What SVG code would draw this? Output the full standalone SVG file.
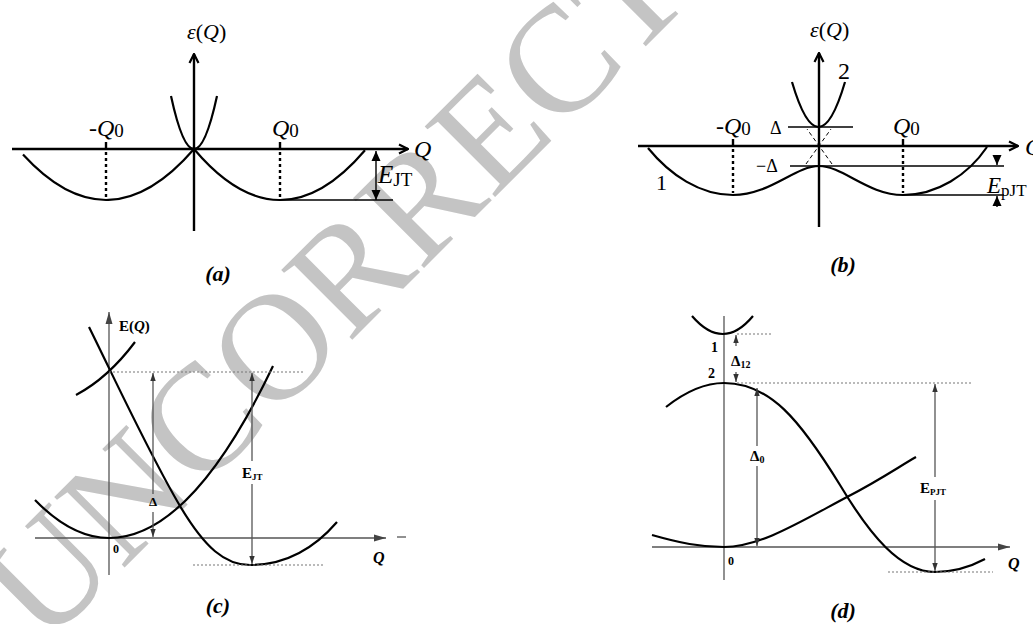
<svg xmlns="http://www.w3.org/2000/svg" width="1033" height="624" viewBox="0 0 1033 624">
<style>
.ser{font-family:"Liberation Serif","Times New Roman",serif;fill:#000}
.it{font-style:italic}
.bd{font-weight:bold}
.ax{stroke:#000;stroke-width:2.4;fill:none}
.cv{stroke:#000;stroke-width:2.2;fill:none}
.thin{stroke:#000;stroke-width:1.4;fill:none}
.dotk{stroke:#000;stroke-width:2.4;stroke-dasharray:3 3;fill:none}
.dash{stroke:#000;stroke-width:1;stroke-dasharray:4 3;fill:none}
.gax{stroke:#555;stroke-width:1.3;fill:none}
.gdot{stroke:#777;stroke-width:1.2;stroke-dasharray:2 2;fill:none}
.cap{font-family:"Liberation Serif","Times New Roman",serif;font-size:22px;font-weight:bold;font-style:italic;fill:#000}
</style>
<defs>
<marker id="chev" markerUnits="userSpaceOnUse" viewBox="0 0 12 12" refX="11" refY="6" markerWidth="12" markerHeight="12" orient="auto">
<path d="M2,1.5 L11,6 L2,10.5" fill="none" stroke="#000" stroke-width="2.2"/>
</marker>
<marker id="tri" markerUnits="userSpaceOnUse" viewBox="0 0 10 10" refX="10" refY="5" markerWidth="10" markerHeight="10" orient="auto-start-reverse">
<path d="M0,0.5 L10,5 L0,9.5 z" fill="#000"/>
</marker>
<marker id="gtri" markerUnits="userSpaceOnUse" viewBox="0 0 12 8" refX="12" refY="4" markerWidth="12" markerHeight="8" orient="auto-start-reverse">
<path d="M0,0.5 L12,4 L0,7.5 z" fill="#444"/>
</marker>
<marker id="stri" markerUnits="userSpaceOnUse" viewBox="0 0 8 6" refX="8" refY="3" markerWidth="8" markerHeight="6" orient="auto-start-reverse">
<path d="M0,0.3 L8,3 L0,5.7 z" fill="#333"/>
</marker>
</defs>
<rect width="1033" height="624" fill="#fff"/>

<g id="watermark">
<text transform="translate(44,648) rotate(-45)" font-family="Liberation Serif, serif" font-size="152" fill="#c4c4c4">UNCORRECTED</text>
</g>

<!-- Panel (a) -->
<g id="panel-a">
<g id="a-axes">
<line x1="12" y1="149" x2="408" y2="149" class="ax" marker-end="url(#chev)"/>
<line x1="194" y1="231" x2="194" y2="54" class="ax" marker-end="url(#chev)"/>
</g>
<g id="a-curves">
<path d="M171,96 Q194,202 217,96" class="cv"/>
<path d="M23,154.6 Q108.5,248.1 194,149" class="cv"/>
<path d="M194,149 Q279.5,250.4 365,150.2" class="cv"/>
<line x1="106" y1="142" x2="106" y2="149" class="ax"/>
<line x1="280" y1="142" x2="280" y2="149" class="ax"/>
<line x1="106" y1="152" x2="106" y2="199" class="dotk"/>
<line x1="280" y1="152" x2="280" y2="199" class="dotk"/>
<line x1="280" y1="200" x2="393" y2="200" class="thin"/>
<line x1="376" y1="151" x2="376" y2="200" class="thin" marker-start="url(#tri)" marker-end="url(#tri)"/>
</g>
<g id="a-labels">
<text class="ser" x="187" y="39" font-size="22"><tspan class="it">ε</tspan>(<tspan class="it">Q</tspan>)</text>
<text class="ser" x="89" y="136" font-size="24">-<tspan class="it">Q</tspan><tspan font-size="19" dy="1">0</tspan></text>
<text class="ser" x="272" y="136" font-size="24"><tspan class="it">Q</tspan><tspan font-size="19" dy="1">0</tspan></text>
<text class="ser it" x="414" y="157" font-size="24">Q</text>
<text class="ser" x="378" y="183" font-size="25"><tspan class="it">E</tspan><tspan font-size="19" dy="3">JT</tspan></text>
<text class="cap" x="218" y="281" text-anchor="middle">(a)</text>
</g>
</g>

<!-- Panel (b) -->
<g id="panel-b">
<g id="b-axes">
<line x1="638" y1="146" x2="1018" y2="146" class="ax" marker-end="url(#chev)"/>
<line x1="819" y1="227" x2="819" y2="53" class="ax" marker-end="url(#chev)"/>
</g>
<g id="b-curves">
<path d="M792,82 Q818.5,172 845,82" class="cv"/>
<path d="M648,148 C670,175 700,195 733,195 C770,195 795,166 819,166 C843,166 868,195 903,195 C937,195 968,175 987,147" class="cv"/>
<line x1="806" y1="164" x2="831" y2="129" class="dash"/>
<line x1="832" y1="164" x2="807" y2="129" class="dash"/>
<line x1="788" y1="127" x2="853" y2="127" class="thin"/>
<line x1="790" y1="166" x2="1004" y2="166" class="thin"/>
<line x1="903" y1="195" x2="1004" y2="195" class="thin"/>
<line x1="733" y1="139" x2="733" y2="146" class="ax"/>
<line x1="903" y1="139" x2="903" y2="146" class="ax"/>
<line x1="733" y1="149" x2="733" y2="193" class="dotk"/>
<line x1="903" y1="149" x2="903" y2="193" class="dotk"/>
<line x1="997" y1="155" x2="997" y2="165" class="thin" marker-end="url(#tri)"/>
<line x1="997" y1="207" x2="997" y2="196" class="thin" marker-end="url(#tri)"/>
</g>
<g id="b-labels">
<text class="ser" x="810" y="37" font-size="22"><tspan class="it">ε</tspan>(<tspan class="it">Q</tspan>)</text>
<text class="ser" x="838" y="79" font-size="24">2</text>
<text class="ser" x="716" y="134" font-size="24">-<tspan class="it">Q</tspan><tspan font-size="19" dy="1">0</tspan></text>
<text class="ser" x="893" y="134" font-size="24"><tspan class="it">Q</tspan><tspan font-size="19" dy="1">0</tspan></text>
<text class="ser" x="770" y="134" font-size="18">Δ</text>
<text class="ser" x="756" y="172" font-size="18">−Δ</text>
<text class="ser" x="656" y="190" font-size="22">1</text>
<text class="ser it" x="1025" y="155" font-size="24">Q</text>
<text class="ser" x="987" y="193" font-size="23"><tspan class="it">E</tspan><tspan font-size="17" dy="3">pJT</tspan></text>
<text class="cap" x="843" y="272" text-anchor="middle">(b)</text>
</g>
</g>

<!-- Panel (c) -->
<g id="panel-c">
<g id="c-axes">
<line x1="35" y1="538" x2="386" y2="538" class="gax" marker-end="url(#gtri)"/>
<line x1="397" y1="537" x2="406" y2="537" class="gax"/>
<line x1="109" y1="575" x2="109" y2="312" class="gax" marker-end="url(#gtri)"/>
</g>
<g id="c-curves">
<path d="M76,395 Q108,378 135,342" class="cv"/>
<path d="M89,327 C120,390 150,455 180,506 C205,548 225,565 250,565 Q300,565 337,522" class="cv"/>
<path d="M35,500 Q72,538 109,538 Q191,538 273,366" class="cv"/>
<line x1="109" y1="372" x2="303" y2="372" class="gdot"/>
<line x1="193" y1="565" x2="323" y2="565" class="gdot"/>
<line x1="153" y1="373" x2="153" y2="494" class="gax" marker-start="url(#stri)"/>
<line x1="153" y1="512" x2="153" y2="537" class="gax" marker-end="url(#stri)"/>
<line x1="252" y1="373" x2="252" y2="461" class="gax" marker-start="url(#stri)"/>
<line x1="252" y1="484" x2="252" y2="564" class="gax" marker-end="url(#stri)"/>
</g>
<g id="c-labels">
<text class="ser bd" x="119" y="331" font-size="15">E(<tspan class="it">Q</tspan>)</text>
<text class="ser bd" x="153" y="506" font-size="13" text-anchor="middle">Δ</text>
<text class="ser bd" x="242" y="478" font-size="15">E<tspan font-size="9" dy="2">JT</tspan></text>
<text class="ser bd" x="113" y="553" font-size="12">0</text>
<text class="ser bd it" x="373" y="563" font-size="16">Q</text>
<text class="cap" x="218" y="613" text-anchor="middle">(c)</text>
</g>
</g>

<!-- Panel (d) -->
<g id="panel-d">
<g id="d-axes">
<line x1="652" y1="547" x2="1010" y2="547" class="gax" marker-end="url(#gtri)"/>
<line x1="724" y1="580" x2="724" y2="316" class="gax"/>
</g>
<g id="d-curves">
<path d="M692,316 Q723,352 753,316" class="cv"/>
<path d="M666,407 C685,392 705,383 724,383 C770,383 800,420 840,485 C870,535 900,572 935,572 C955,572 970,567 985,559" class="cv"/>
<path d="M652,535 C680,543 700,547 724,547 C760,547 800,522 847,497 C880,480 900,466 916,457" class="cv"/>
<line x1="737" y1="334" x2="773" y2="334" class="gdot"/>
<line x1="737" y1="383" x2="972" y2="383" class="gdot"/>
<line x1="888" y1="572" x2="993" y2="572" class="gdot"/>
<line x1="736" y1="346" x2="736" y2="335" class="gax" marker-end="url(#stri)"/>
<line x1="736" y1="372" x2="736" y2="382" class="gax" marker-end="url(#stri)"/>
<line x1="757" y1="388" x2="757" y2="446" class="gax" marker-start="url(#stri)"/>
<line x1="757" y1="466" x2="757" y2="546" class="gax" marker-end="url(#stri)"/>
<line x1="935" y1="384" x2="935" y2="477" class="gax" marker-start="url(#stri)"/>
<line x1="935" y1="500" x2="935" y2="571" class="gax" marker-end="url(#stri)"/>
</g>
<g id="d-labels">
<text class="ser bd" x="711" y="352" font-size="14">1</text>
<text class="ser bd" x="731" y="366" font-size="15">Δ<tspan font-size="10" dy="2">12</tspan></text>
<text class="ser bd" x="708" y="378" font-size="14">2</text>
<text class="ser bd" x="750" y="461" font-size="15">Δ<tspan font-size="10" dy="2">0</tspan></text>
<text class="ser bd" x="920" y="493" font-size="15">E<tspan font-size="9" dy="2">PJT</tspan></text>
<text class="ser bd" x="728" y="565" font-size="12">0</text>
<text class="ser bd it" x="1008" y="569" font-size="16">Q</text>
<text class="cap" x="843" y="618" text-anchor="middle">(d)</text>
</g>
</g>
</svg>
